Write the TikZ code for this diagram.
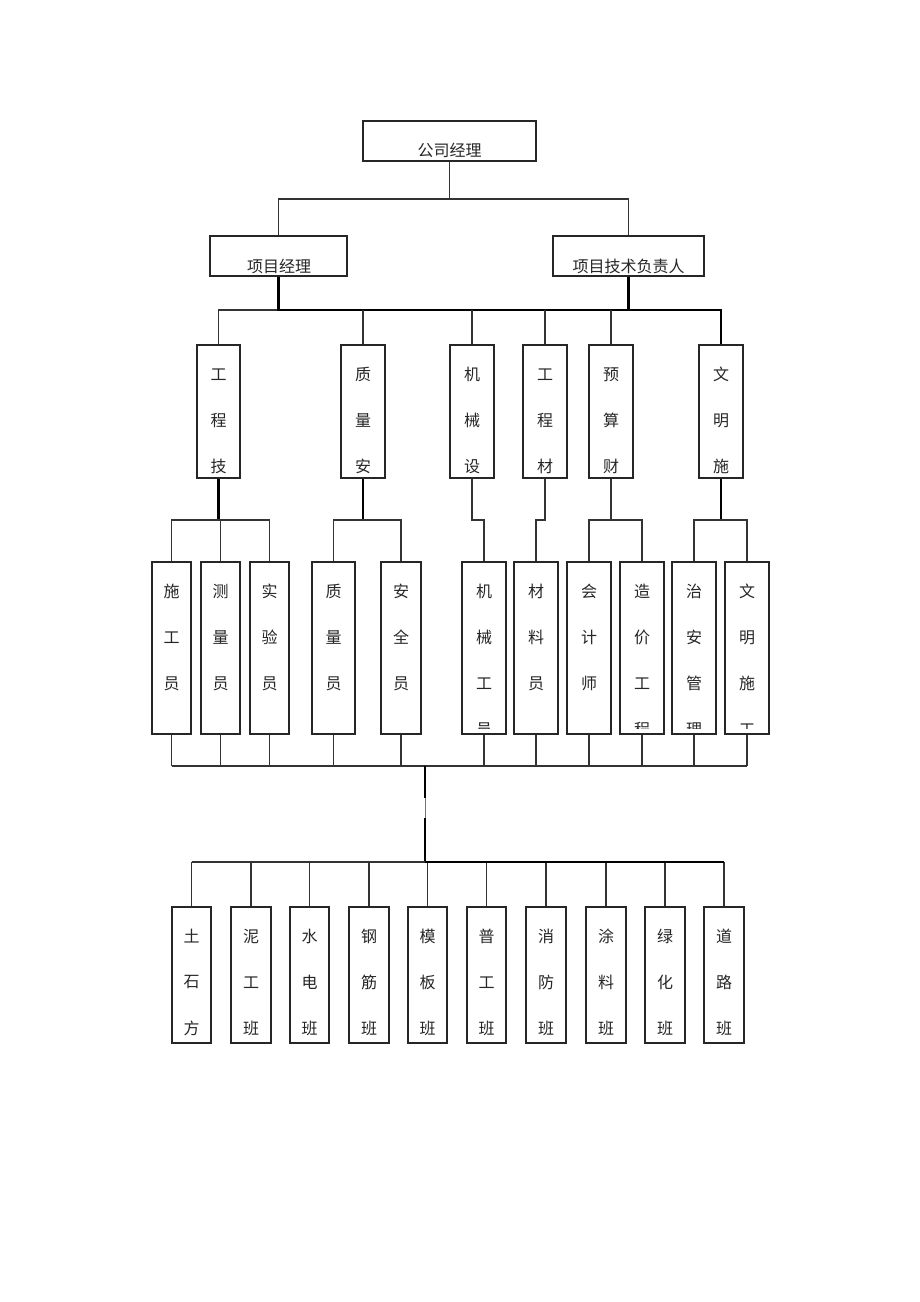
\documentclass[tikz,border=0pt]{standalone}
\usepackage{fontspec}
\newfontfamily\cjk{Noto Sans CJK SC}
\tikzset{
  box/.style={draw=black!85, line width=1.1pt, rectangle, inner sep=0pt, fill=white},
  conn/.style={draw=black!80, line width=1.1pt},
  heavy/.style={draw=black, line width=2.2pt},
  ch/.style={font=\cjk\fontsize{16}{17}\selectfont, inner sep=0pt, text=black!85}
}
\newcommand{\mkbox}[5]{%
  \node[box, minimum width={(#4-#2)*1pt}, minimum height={(#5-#3)*1pt}] (#1) at ({(#2+#4)/2},{(#3+#5)/2}) {};}
\newcommand{\vchars}[3]{%
  \begin{scope}
    \clip ([xshift=-2pt]#1.north west) rectangle ([yshift=#3]#1.south east);
    \foreach \c [count=\i, evaluate=\i as \dy using 30+46*(\i-1)] in {#2} {
      \node[ch] (#1-t\i) at ([yshift=-\dy pt]#1.north) {\c};
    }
  \end{scope}}
\begin{document}
\begin{tikzpicture}[x=1pt, y={(0pt,-1pt)}]
\useasboundingbox (0,0) rectangle (920,1302);
\fill[white] (0,0) rectangle (920,1302);

% level 0 / 1
\mkbox{gm}{363}{121}{536}{161}
\node[ch] (gm-t) at (449.5,150) {公司经理};
\mkbox{pm}{210}{236}{347}{276}
\node[ch] (pm-t) at (279,266) {项目经理};
\mkbox{tl}{553}{236}{704}{276}
\node[ch] (tl-t) at (628.5,266) {项目技术负责人};

\coordinate (b0) at (0,199);
\coordinate (b1) at (0,310);
\coordinate (b2) at (0,520);
\coordinate (b3) at (0,766);
\coordinate (b4) at (0,862);

% level 2
\mkbox{a1}{197}{345}{240}{478}
\mkbox{a2}{341}{345}{385}{478}
\mkbox{a3}{450}{345}{494}{478}
\mkbox{a4}{523}{345}{567}{478}
\mkbox{a5}{589}{345}{633}{478}
\mkbox{a6}{699}{345}{743}{478}
\vchars{a1}{工,程,技}{0pt}
\vchars{a2}{质,量,安}{0pt}
\vchars{a3}{机,械,设}{0pt}
\vchars{a4}{工,程,材}{0pt}
\vchars{a5}{预,算,财}{0pt}
\vchars{a6}{文,明,施}{0pt}

% level 3
\mkbox{c1}{152}{562}{191}{734}
\mkbox{c2}{201}{562}{240}{734}
\mkbox{c3}{250}{562}{289}{734}
\mkbox{c4}{312}{562}{355}{734}
\mkbox{c5}{381}{562}{421}{734}
\mkbox{c6}{462}{562}{506}{734}
\mkbox{c7}{514}{562}{558}{734}
\mkbox{c8}{567}{562}{611}{734}
\mkbox{c9}{620}{562}{664}{734}
\mkbox{c10}{672}{562}{716}{734}
\mkbox{c11}{725}{562}{769}{734}
\vchars{c1}{施,工,员}{6pt}
\vchars{c2}{测,量,员}{6pt}
\vchars{c3}{实,验,员}{6pt}
\vchars{c4}{质,量,员}{6pt}
\vchars{c5}{安,全,员}{6pt}
\vchars{c6}{机,械,工,员}{6pt}
\vchars{c7}{材,料,员}{6pt}
\vchars{c8}{会,计,师}{6pt}
\vchars{c9}{造,价,工,程}{6pt}
\vchars{c10}{治,安,管,理}{6pt}
\vchars{c11}{文,明,施,工}{6pt}

% level 4
\mkbox{d1}{172}{907}{211}{1043}
\mkbox{d2}{231}{907}{271}{1043}
\mkbox{d3}{290}{907}{329}{1043}
\mkbox{d4}{349}{907}{389}{1043}
\mkbox{d5}{408}{907}{447}{1043}
\mkbox{d6}{467}{907}{506}{1043}
\mkbox{d7}{526}{907}{566}{1043}
\mkbox{d8}{586}{907}{626}{1043}
\mkbox{d9}{645}{907}{685}{1043}
\mkbox{d10}{704}{907}{744}{1043}
\vchars{d1}{土,石,方}{0pt}
\vchars{d2}{泥,工,班}{0pt}
\vchars{d3}{水,电,班}{0pt}
\vchars{d4}{钢,筋,班}{0pt}
\vchars{d5}{模,板,班}{0pt}
\vchars{d6}{普,工,班}{0pt}
\vchars{d7}{消,防,班}{0pt}
\vchars{d8}{涂,料,班}{0pt}
\vchars{d9}{绿,化,班}{0pt}
\vchars{d10}{道,路,班}{0pt}

% connectors level 0 -> 1
\draw[conn] (gm.south) -- (gm.south |- b0);
\draw[conn] (pm.north) -- (pm.north |- b0) -- (tl.north |- b0) -- (tl.north);

% level 1 -> 2
\draw[conn] (a1.north) -- (a1.north |- b1) -- (pm.south |- b1);
\draw[heavy] (pm.south) -- (pm.south |- b1) -- (a6.north |- b1) -- (a6.north);
\draw[heavy] (tl.south) -- (tl.south |- b1);
\draw[conn] (a2.north) -- (a2.north |- b1);
\draw[conn] (a3.north) -- (a3.north |- b1);
\draw[conn] (a4.north) -- (a4.north |- b1);
\draw[conn] (a5.north) -- (a5.north |- b1);

% level 2 -> 3
\draw[heavy] (a1.south) -- (a1.south |- b2);
\draw[conn] (c1.north) -- (c1.north |- b2) -- (c3.north |- b2) -- (c3.north);
\draw[conn] (c2.north) -- (c2.north |- b2);
\draw[heavy] (a2.south) -- (a2.south |- b2);
\draw[conn] (c4.north) -- (c4.north |- b2) -- (c5.north |- b2) -- (c5.north);
\draw[conn] (a3.south) -- (a3.south |- b2) -| (c6.north);
\draw[conn] (a4.south) -- (a4.south |- b2) -| (c7.north);
\draw[conn] (a5.south) -- (a5.south |- b2);
\draw[conn] (c8.north) -- (c8.north |- b2) -- (c9.north |- b2) -- (c9.north);
\draw[heavy] (a6.south) -- (a6.south |- b2);
\draw[conn] (c10.north) -- (c10.north |- b2) -- (c11.north |- b2) -- (c11.north);

% level 3 -> bus
\foreach \n in {c1,c2,c3,c4,c5,c6,c7,c8,c9,c10,c11} {
  \draw[conn] (\n.south) -- (\n.south |- b3);
}
\draw[conn] (c1.south |- b3) -- (c11.south |- b3);
\coordinate (j1) at (425,766);
\coordinate (j2) at (425,798);
\coordinate (j3) at (425.5,825);
\coordinate (j4) at (425,818);
\coordinate (j5) at (425,862);
\draw[conn, line width=1.6pt] (c2.south |- b3) -- (c9.south |- b3);
\draw[heavy] (j1) -- (j2);
\draw[conn, draw=black!55, line width=1.3pt] ([xshift=0.5pt]j2) -- (j3);
\draw[heavy] (j4) -- (j5);

% bus -> level 4
\foreach \n in {d1,d2,d3,d4,d5,d6,d7,d8,d9,d10} {
  \draw[conn] (\n.north) -- (\n.north |- b4);
}
\draw[conn] (d1.north |- b4) -- (d10.north |- b4);
\draw[heavy] (j5) -- (d10.north |- b4);
\end{tikzpicture}
\end{document}
